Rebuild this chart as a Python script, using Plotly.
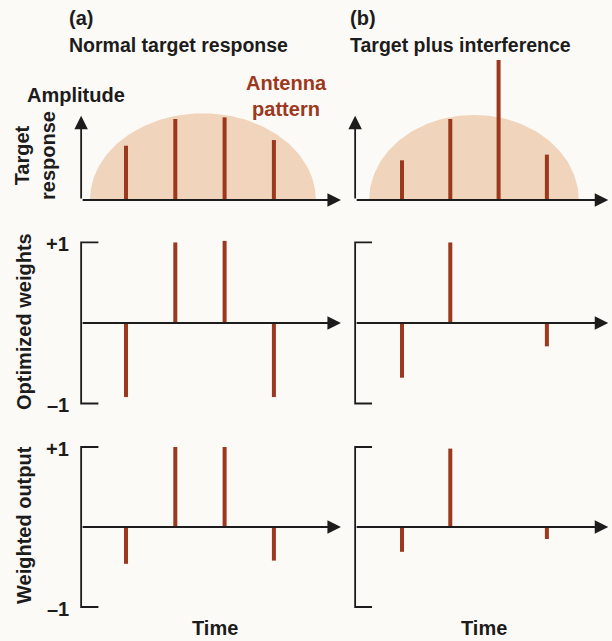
import numpy as np
import plotly.graph_objects as go

# ---------------- data ----------------
TIME = [1, 2, 3, 4]
RESP_A = [0.67, 1.0, 1.02, 0.74]      # normal target response
RESP_B = [0.49, 1.0, 1.73, 0.56]      # target plus interference
WEIGHTS_A = [-0.92, 1.0, 1.02, -0.92]
WEIGHTS_B = [-0.68, 1.0, None, -0.29]
OUTPUT_A = [-0.46, 1.0, 1.0, -0.42]
OUTPUT_B = [-0.31, 0.98, None, -0.15]
# antenna pattern (semi-ellipse): centre, half-width, height
PATTERN_CENTER = [2.56, 2.49]
PATTERN_HALFWIDTH = [2.29, 2.17]
PATTERN_HEIGHT = [1.07, 1.05]

PANEL_TITLES = ["(a)", "(b)"]
PANEL_SUBTITLES = ["Normal target response", "Target plus interference"]
ROW_LABELS = ["Target<br>response", "Optimized weights", "Weighted output"]

# ---------------- style ----------------
W, H = 612, 641
BG = "#fcfaf7"
STEM = "#9c381d"
FILL = "#f0d4bb"
INK = "#1c1c1c"
FONT = "Liberation Sans, Arial, sans-serif"
FS = 20

def px_x(p):
    return p / W

def px_y(p):
    return 1 - p / H

# column layout (pixel domains and time ranges)
COL_DOM = [(70, 343), (345, 612)]
COL_RANGE = [(-0.136, 5.4016), (-0.180, 5.348)]
ORIGIN = [0.09, 0.03]
TIP = [5.36, 5.27]
# row layout
ROW_DOM = [(50, 205), (225, 420), (430, 615)]
ROW_RANGE = [(-0.062, 1.852), (-1.205, 1.217), (-1.10, 1.2125)]

series = [[RESP_A, RESP_B], [WEIGHTS_A, WEIGHTS_B], [OUTPUT_A, OUTPUT_B]]

fig = go.Figure()
layout = dict()
annotations = []

for r in range(3):
    for c in range(2):
        k = r * 2 + c + 1
        xs = "x" if k == 1 else f"x{k}"
        ys = "y" if k == 1 else f"y{k}"
        xa = "xaxis" if k == 1 else f"xaxis{k}"
        ya = "yaxis" if k == 1 else f"yaxis{k}"
        layout[xa] = dict(domain=[px_x(COL_DOM[c][0]), px_x(COL_DOM[c][1])],
                          range=list(COL_RANGE[c]), visible=False, anchor=ys,
                          fixedrange=True)
        layout[ya] = dict(domain=[px_y(ROW_DOM[r][1]), px_y(ROW_DOM[r][0])],
                          range=list(ROW_RANGE[r]), visible=False, anchor=xs,
                          fixedrange=True)
        o = ORIGIN[c]

        if r == 0:
            th = np.linspace(0, np.pi, 120)
            hx = PATTERN_CENTER[c] + PATTERN_HALFWIDTH[c] * np.cos(th)
            hy = PATTERN_HEIGHT[c] * np.sin(th)
            fig.add_trace(go.Scatter(x=hx, y=hy, xaxis=xs, yaxis=ys, mode="lines",
                                     fill="toself", fillcolor=FILL,
                                     line=dict(width=0, color=FILL),
                                     hoverinfo="skip", showlegend=False))

        # stems
        sx, sy = [], []
        for t, v in zip(TIME, series[r][c]):
            if v is None:
                continue
            sx += [t, t, None]
            sy += [0, v, None]
        fig.add_trace(go.Scatter(x=sx, y=sy, xaxis=xs, yaxis=ys, mode="lines",
                                 line=dict(color=STEM, width=4),
                                 hoverinfo="skip", showlegend=False))

        if r > 0:
            # bracket-style vertical axis from -1 to +1
            tick = 0.35
            fig.add_trace(go.Scatter(x=[o + tick, o, o, o + tick], y=[1, 1, -1, -1],
                                     xaxis=xs, yaxis=ys, mode="lines",
                                     line=dict(color=INK, width=1.8),
                                     hoverinfo="skip", showlegend=False))
        else:
            # vertical arrow axis
            annotations.append(dict(x=o, y=1.04, ax=o, ay=0, xref=xs, yref=ys,
                                    axref=xs, ayref=ys, text="", showarrow=True,
                                    arrowhead=2, arrowsize=1.5, arrowwidth=1.8,
                                    arrowcolor=INK, standoff=0, startstandoff=0))
        # horizontal arrow axis
        annotations.append(dict(x=TIP[c], y=0, ax=o, ay=0, xref=xs, yref=ys,
                                axref=xs, ayref=ys, text="", showarrow=True,
                                arrowhead=2, arrowsize=1.5, arrowwidth=1.8,
                                arrowcolor=INK, standoff=0, startstandoff=0))

def label(text, x, y, xanchor="center", color=INK, angle=0, size=FS):
    annotations.append(dict(text=text, x=px_x(x), y=px_y(y), xref="paper", yref="paper",
                            xanchor=xanchor, yanchor="middle", showarrow=False,
                            textangle=angle,
                            font=dict(family=FONT, size=size, color=color, weight="bold")))

# panel titles
label(PANEL_TITLES[0], 67, 18, "left")
label(PANEL_SUBTITLES[0], 67, 45, "left", size=19.5)
label(PANEL_TITLES[1], 348, 18, "left")
label(PANEL_SUBTITLES[1], 348, 45, "left", size=19.5)
# top-row labels
label("Amplitude", 76, 95)
label("Antenna<br>pattern", 286, 96, color=STEM)
label(ROW_LABELS[0], 35, 156, angle=-90)
label(ROW_LABELS[1], 24, 322, angle=-90)
label(ROW_LABELS[2], 24, 525, angle=-90)
# +1 / -1 labels
for r in (1, 2):
    lo, hi = ROW_DOM[r]
    rmin, rmax = ROW_RANGE[r]
    for v, txt in ((1, "+1"), (-1, "–1")):
        py = lo + (rmax - v) / (rmax - rmin) * (hi - lo)
        label(txt, 71, py + 2, "right")
# time labels
label("Time", 215, 628)
label("Time", 484, 628)

fig.update_layout(width=W, height=H, margin=dict(l=0, r=0, t=0, b=0),
                  paper_bgcolor=BG, plot_bgcolor="rgba(0,0,0,0)",
                  showlegend=False, annotations=annotations, **layout)

fig.write_html("out.html", include_plotlyjs=True, config={"displayModeBar": False})
